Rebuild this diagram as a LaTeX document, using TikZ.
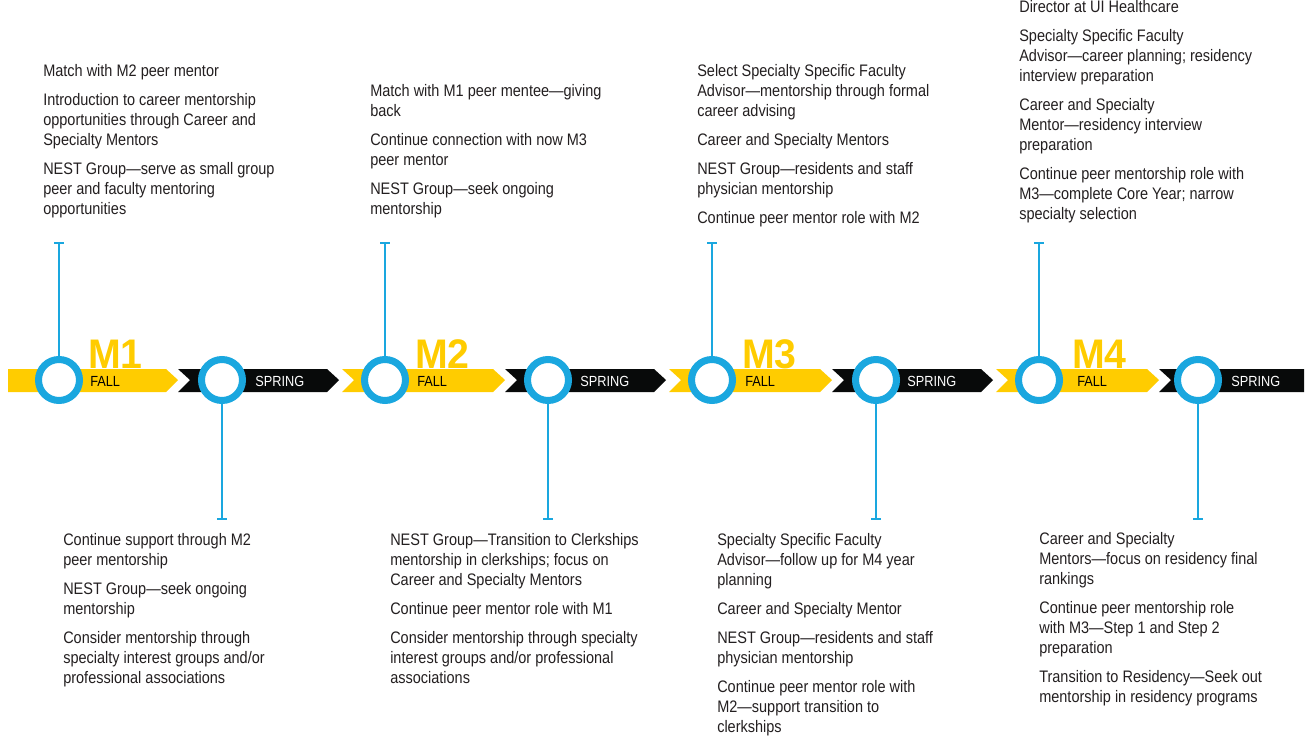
\documentclass[tikz,border=0pt]{standalone}
\usepackage{fontspec}
\setmainfont{Liberation Sans}[FakeStretch=0.87]
\newfontfamily\yearfont{Liberation Sans}[FakeStretch=0.95]
\usepackage{tikz}
\usetikzlibrary{positioning}
\definecolor{bandyellow}{RGB}{255,204,0}
\definecolor{bandblack}{RGB}{8,10,10}
\definecolor{ringblue}{RGB}{26,167,223}
\definecolor{notetext}{RGB}{35,31,32}

\begin{document}
\begin{tikzpicture}[x=0.75pt,y=-0.75pt,
  ring/.style={circle,draw=ringblue,line width=5.25pt,fill=white,minimum size=30.75pt,inner sep=0},
  stem/.style={draw=ringblue,line width=1pt},
  notes/.style={anchor=north west,align=left,inner sep=0,text=notetext,font=\fontsize{12.5}{15}\selectfont},
  yearlabel/.style={anchor=south west,inner sep=0,text=bandyellow,font=\yearfont\fontsize{31}{31}\selectfont\bfseries},
  termlabel/.style={anchor=west,inner sep=0,font=\fontsize{11}{12}\selectfont}]
\useasboundingbox (0,0) rectangle (1312,738);

% band
\fill[bandyellow] (8,369) -- (166,369) -- (178,380) -- (166,392) -- (8,392) -- cycle;
\foreach \a in {342,669,996}
  \fill[bandyellow] (\a,369) -- (\a+151,369) -- (\a+163,380) -- (\a+151,392) -- (\a,392) -- (\a+12,380) -- cycle;
\foreach \b in {178,505,832}
  \fill[bandblack] (\b,369) -- (\b+149,369) -- (\b+161,380) -- (\b+149,392) -- (\b,392) -- (\b+12,380) -- cycle;
\fill[bandblack] (1159,369) -- (1304,369) -- (1304,392) -- (1159,392) -- (1171,380) -- cycle;

% years and terms
\foreach \x/\y in {88/1,415/2,742/3,1072/4}
  \node[yearlabel] (year\y) at (\x,369) {M\y};
\foreach \x/\y in {90/1,417/2,745/3,1077/4}
  \node[termlabel] (fall\y) at (\x,381) {FALL};
\foreach \x/\y in {255/1,580/2,907/3,1231/4}
  \node[termlabel,text=white] (spring\y) at (\x,381) {SPRING};

% rings and stems
\foreach \x/\y in {59/1,385/2,712/3,1039/4} {
  \node[ring] (ringF\y) at (\x,380) {};
  \coordinate (tipF\y) at (\x,243);
  \draw[stem] (ringF\y) -- (tipF\y);
  \draw[stem] ([xshift=-3.75pt]tipF\y) -- ([xshift=3.75pt]tipF\y);
}
\foreach \x/\y in {222/1,548/2,876/3,1198/4} {
  \node[ring] (ringS\y) at (\x,380) {};
  \coordinate (tipS\y) at (\x,519);
  \draw[stem] (ringS\y) -- (tipS\y);
  \draw[stem] ([xshift=-3.75pt]tipS\y) -- ([xshift=3.75pt]tipS\y);
}

% notes above
\node[notes] (noteF1) at (43,64) {Match with M2 peer mentor\\[6.75pt]
  Introduction to career mentorship\\opportunities through Career and\\Specialty Mentors\\[6.75pt]
  NEST Group---serve as small group\\peer and faculty mentoring\\opportunities};
\node[notes] (noteF2) at (370,84) {Match with M1 peer mentee---giving\\back\\[6.75pt]
  Continue connection with now M3\\peer mentor\\[6.75pt]
  NEST Group---seek ongoing\\mentorship};
\node[notes] (noteF3) at (697,64) {Select Specialty Specific Faculty\\Advisor---mentorship through formal\\career advising\\[6.75pt]
  Career and Specialty Mentors\\[6.75pt]
  NEST Group---residents and staff\\physician mentorship\\[6.75pt]
  Continue peer mentor role with M2};
\node[notes] (noteF4) at (1019,0) {Director at UI Healthcare\\[6.75pt]
  Specialty Specific Faculty\\Advisor---career planning; residency\\interview preparation\\[6.75pt]
  Career and Specialty\\Mentor---residency interview\\preparation\\[6.75pt]
  Continue peer mentorship role with\\M3---complete Core Year; narrow\\specialty selection};

% notes below
\node[notes] (noteS1) at (63,533) {Continue support through M2\\peer mentorship\\[6.75pt]
  NEST Group---seek ongoing\\mentorship\\[6.75pt]
  Consider mentorship through\\specialty interest groups and/or\\professional associations};
\node[notes] (noteS2) at (390,533) {NEST Group---Transition to Clerkships\\mentorship in clerkships; focus on\\Career and Specialty Mentors\\[6.75pt]
  Continue peer mentor role with M1\\[6.75pt]
  Consider mentorship through specialty\\interest groups and/or professional\\associations};
\node[notes] (noteS3) at (717,533) {Specialty Specific Faculty\\Advisor---follow up for M4 year\\planning\\[6.75pt]
  Career and Specialty Mentor\\[6.75pt]
  NEST Group---residents and staff\\physician mentorship\\[6.75pt]
  Continue peer mentor role with\\M2---support transition to\\clerkships};
\node[notes] (noteS4) at (1039,532) {Career and Specialty\\Mentors---focus on residency final\\rankings\\[6.75pt]
  Continue peer mentorship role\\with M3---Step 1 and Step 2\\preparation\\[6.75pt]
  Transition to Residency---Seek out\\mentorship in residency programs};
\end{tikzpicture}
\end{document}
